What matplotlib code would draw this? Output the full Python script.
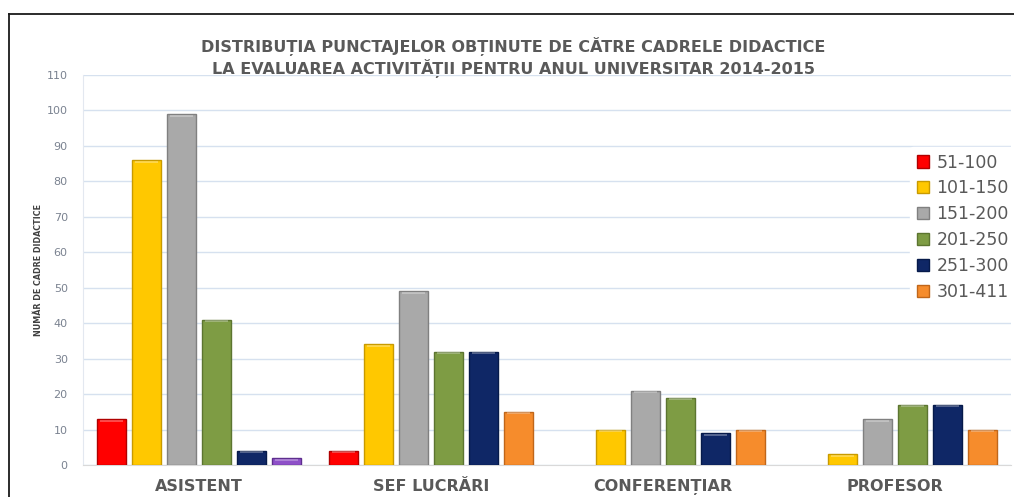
import matplotlib
matplotlib.use("Agg")
import matplotlib.pyplot as plt
from matplotlib.lines import Line2D
from matplotlib.patches import Patch
import numpy as np

categories = ["ASISTENT", "SEF LUCRĂRI", "CONFERENȚIAR", "PROFESOR"]
series = ["51-100", "101-150", "151-200", "201-250", "251-300", "301-411"]
v_51_100 = [13, 4, 0, 0]
v_101_150 = [86, 34, 10, 3]
v_151_200 = [99, 49, 21, 13]
v_201_250 = [41, 32, 19, 17]
v_251_300 = [4, 32, 9, 17]
v_301_411 = [2, 15, 10, 10]
values = [v_51_100, v_101_150, v_151_200, v_201_250, v_251_300, v_301_411]
yticks = list(range(0, 111, 10))

colors = ["#FF0000", "#FFC800", "#A9A9A9", "#7E9C44", "#0F2766", "#F68C2C"]
edges = ["#B00000", "#C89A00", "#808080", "#5C7530", "#061A4A", "#C0661A"]
# the single bar drawn in purple in the original (ASISTENT, 301-411)
special = {(5, 0): ("#8E50C8", "#5E2E8E")}

fig = plt.figure(figsize=(10.14, 4.97), dpi=100)
ax = fig.add_axes([83/1014, 1-465/497, 928/1014, 390/497])

x = np.arange(len(categories))
step = 0.151
width = 0.122
for i, (name, vals) in enumerate(zip(series, values)):
    fc = [special.get((i, j), (colors[i], edges[i]))[0] for j in range(len(vals))]
    ec = [special.get((i, j), (colors[i], edges[i]))[1] if vals[j] > 0 else "none"
          for j in range(len(vals))]
    pos = x + (i - 2.5) * step
    ax.bar(pos, vals, width, color=fc, edgecolor=ec, linewidth=1.0, zorder=3)
    # light top highlight for bevel look
    for p, v in zip(pos, vals):
        if v > 0:
            ax.plot([p - width/2*0.8, p + width/2*0.8], [v - 0.45, v - 0.45],
                    color="white", alpha=0.35, lw=1.2, zorder=4, solid_capstyle="butt")

ax.set_xlim(-0.5, len(categories) - 0.5)
ax.set_ylim(0, 110)
ax.set_yticks(yticks)
ax.set_yticklabels([str(t) for t in yticks], fontsize=8, color="#7A8290")
ax.grid(axis="y", color="#D6E1EF", lw=1.0, zorder=0)
ax.set_axisbelow(True)
for s in ["top", "right"]:
    ax.spines[s].set_visible(False)
ax.spines["left"].set_color("#E3E8F0")
ax.spines["bottom"].set_color("#D9D9D9")
ax.tick_params(axis="y", length=0, pad=11)
ax.tick_params(axis="x", length=0, pad=10)
ax.set_xticks(x)
ax.set_xticklabels(categories, fontsize=11.5, fontweight="bold", color="#595959",
                   family="DejaVu Sans")
ax.set_ylabel("NUMĂR DE CADRE DIDACTICE", fontsize=6.4, fontweight="bold",
              fontstretch="condensed", color="#404040", family="DejaVu Sans")
ax.yaxis.set_label_coords(-0.043, 0.5)

fig.text(513/1014, 1-47/497, "DISTRIBUȚIA PUNCTAJELOR OBȚINUTE DE CĂTRE CADRELE DIDACTICE",
         ha="center", va="center", fontsize=11.5, fontweight="bold", color="#595959")
fig.text(513/1014, 1-68/497, "LA EVALUAREA ACTIVITĂȚII PENTRU ANUL UNIVERSITAR 2014-2015",
         ha="center", va="center", fontsize=11.5, fontweight="bold", color="#595959")

handles = [Patch(facecolor=colors[i], edgecolor=edges[i], label=series[i]) for i in range(len(series))]
leg = fig.legend(handles=handles, loc="upper left", bbox_to_anchor=(901/1014, 1-138/497),
                 frameon=True, framealpha=1, edgecolor="white", facecolor="white",
                 fontsize=12.5, handlelength=0.7, handleheight=0.7, handletextpad=0.45,
                 labelspacing=0.45, borderpad=0.4)
for t in leg.get_texts():
    t.set_color("#595959")

# outer frame lines (top and left)
fig.add_artist(Line2D([9/1014, 1], [1-14/497, 1-14/497], color="#1A1A1A", lw=1.3,
                      transform=fig.transFigure))
fig.add_artist(Line2D([9/1014, 9/1014], [0, 1-14/497], color="#1A1A1A", lw=1.3,
                      transform=fig.transFigure))

fig.savefig("out.png", dpi=100)
